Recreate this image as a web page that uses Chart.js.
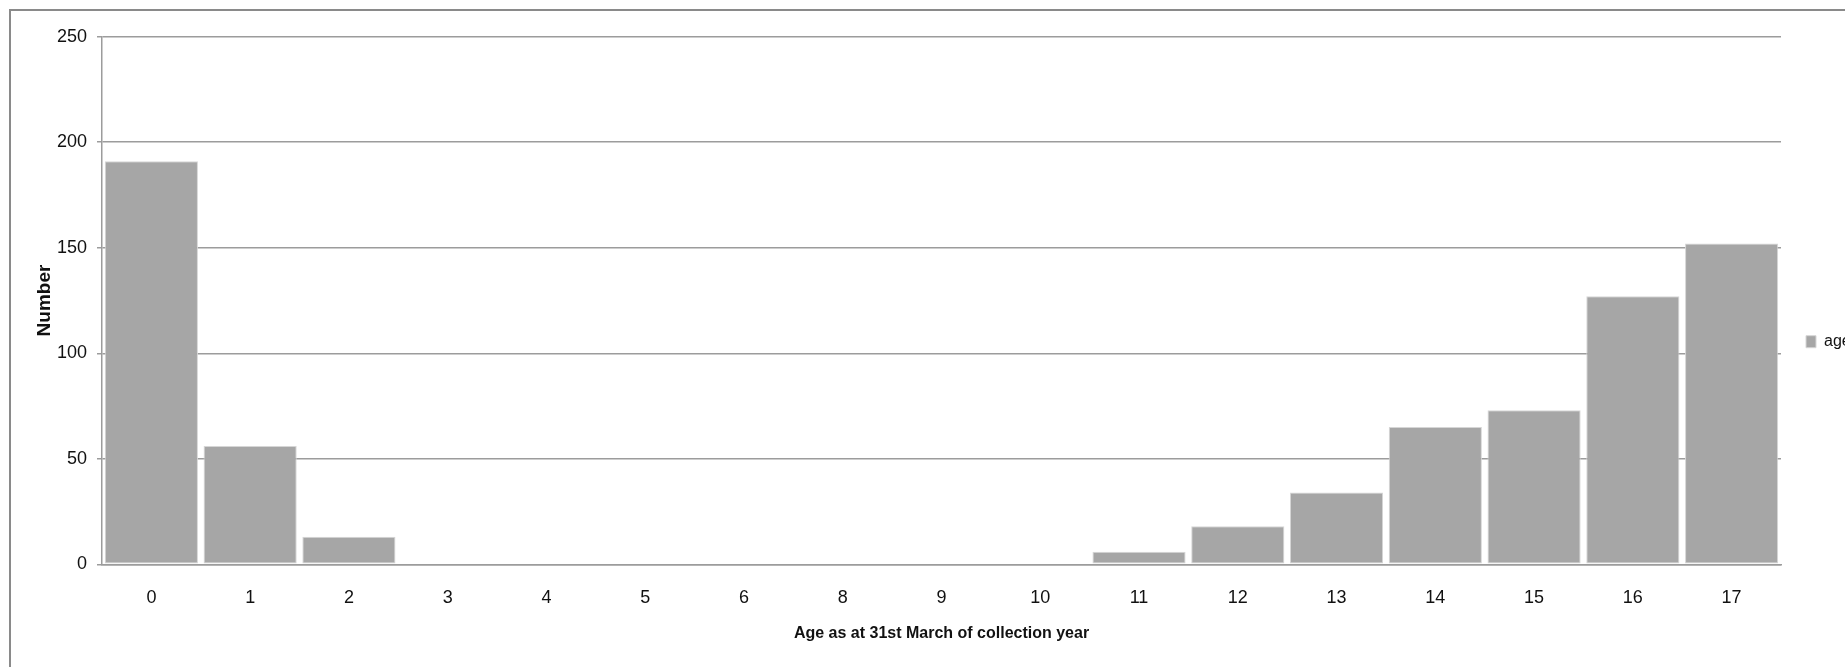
<!DOCTYPE html>
<html>
<head>
<meta charset="utf-8">
<script src="https://cdn.jsdelivr.net/npm/chart.js@4/dist/chart.umd.min.js"></script>
<style>
  html, body { margin: 0; padding: 0; background: #ffffff; overflow: hidden; width: 1845px; height: 667px; }
  #frame { position: absolute; left: 9px; top: 9px; width: 2000px; height: 800px;
           border-top: 2px solid #8a8a8a; border-left: 2px solid #8a8a8a; }
  #chart { position: absolute; left: 0; top: 0; }
</style>
</head>
<body>
<div id="frame"></div>
<canvas id="chart" width="1858" height="667"></canvas>
<script>
// Ages as at 31st March of the collection year (age 7 has no entry)
const ageLabels = ['0', '1', '2', '3', '4', '5', '6', '8', '9', '10', '11', '12', '13', '14', '15', '16', '17'];
// Number of records for each age
const ageCounts = [191, 56, 13, 0, 0, 0, 0, 0, 0, 0, 6, 18, 34, 65, 73, 127, 152];
// Value axis ticks
const yTicks = [0, 50, 100, 150, 200, 250];
const seriesName = 'age';

const sansFamily = '"Liberation Sans", Arial, sans-serif';
const tickFont = { family: sansFamily, size: 18 };
const textColor = '#111111';
const gridColor = '#9c9c9c';

new Chart(document.getElementById('chart'), {
  type: 'bar',
  data: {
    labels: ageLabels,
    datasets: [{
      label: seriesName,
      data: ageCounts,
      backgroundColor: '#a6a6a6',
      borderColor: '#d6d6d6',
      borderWidth: 1,
      borderSkipped: false,
      categoryPercentage: 1.0,
      barPercentage: 0.943
    }]
  },
  options: {
    responsive: false,
    animation: false,
    layout: { padding: { top: 16.4, left: 0, right: 0, bottom: 0 } },
    plugins: {
      // blank spacer above the plot area
      title: { display: true, text: ' ', font: { size: 10, lineHeight: 1 }, padding: { top: 10.3, bottom: 0 } },
      tooltip: { enabled: false },
      legend: {
        position: 'right',
        fullSize: true,
        maxWidth: 77,
        labels: {
          boxWidth: 10,
          boxHeight: 12,
          padding: 25,
          color: textColor,
          font: { family: sansFamily, size: 16 }
        }
      }
    },
    scales: {
      x: {
        offset: true,
        grid: { display: false, drawTicks: false },
        border: { display: true, color: gridColor, width: 1.5 },
        ticks: { color: textColor, font: tickFont, padding: 23, maxRotation: 0, autoSkip: false },
        title: {
          display: true,
          text: 'Age as at 31st March of collection year',
          color: textColor,
          font: { family: sansFamily, size: 16, weight: 'bold' },
          padding: { top: 0, bottom: 23.6 }
        },
        afterFit: (scale) => { scale.height = 102.7; }
      },
      y: {
        min: 0,
        max: 250,
        afterBuildTicks: (scale) => { scale.ticks = yTicks.map(v => ({ value: v })); },
        grid: { color: gridColor, lineWidth: 1.5, tickLength: 5, drawTicks: true },
        border: { display: true, color: gridColor, width: 1.5 },
        ticks: { color: textColor, font: tickFont, padding: 10 },
        title: {
          display: true,
          text: 'Number',
          color: textColor,
          font: { family: sansFamily, size: 19, weight: 'bold' },
          padding: { top: 33.6, bottom: 0 }
        },
        afterFit: (scale) => { scale.width = 102; }
      }
    }
  }
});
</script>
</body>
</html>
